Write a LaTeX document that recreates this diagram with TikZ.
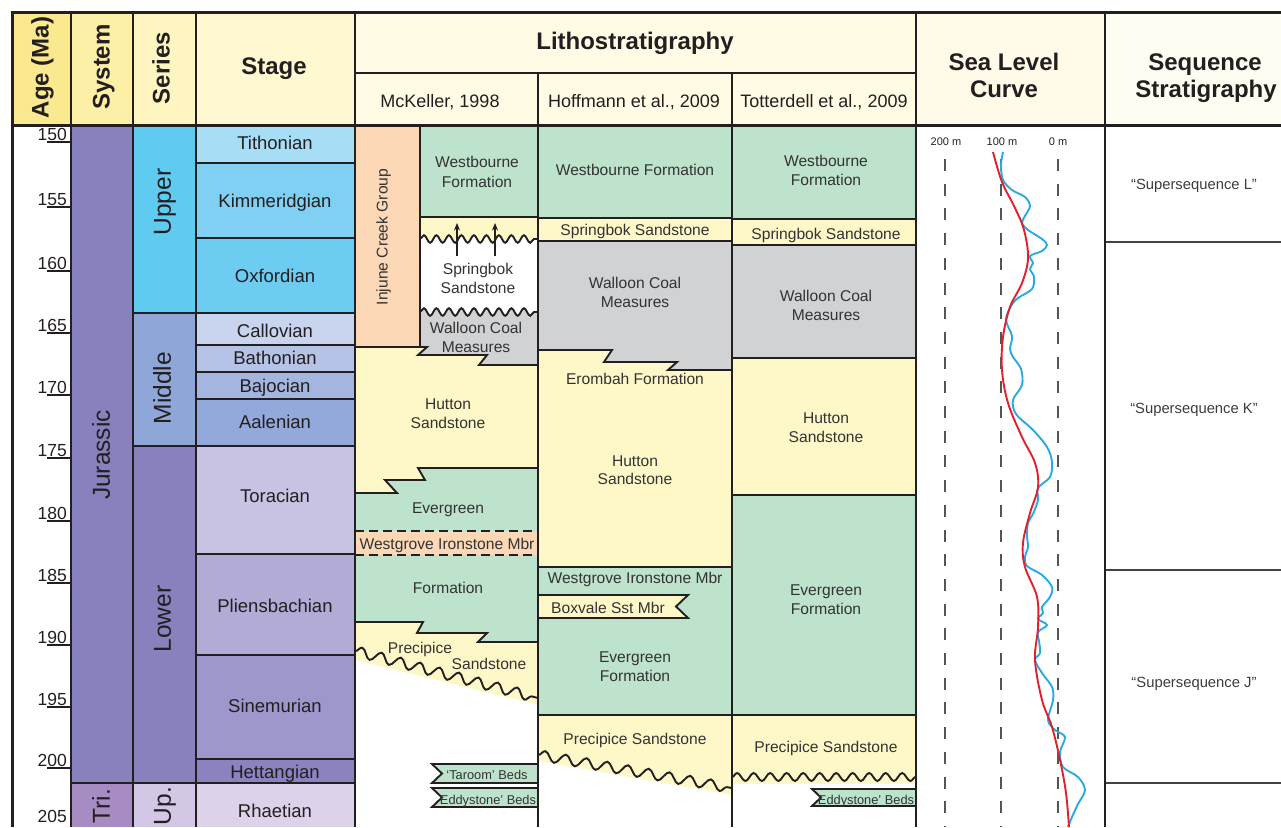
\documentclass[tikz,border=0pt]{standalone}
\usepackage{fontspec}
\setmainfont{Liberation Sans}
\usetikzlibrary{decorations.pathmorphing,arrows.meta}
\definecolor{linec}{HTML}{231F20}
\definecolor{txtc}{HTML}{333333}
\definecolor{grnc}{HTML}{BEE3CC}
\definecolor{ylwc}{HTML}{FEF8C9}
\definecolor{gryc}{HTML}{D1D2D4}
\definecolor{pchc}{HTML}{FCD8B6}
\definecolor{hA}{HTML}{FBE98F}
\definecolor{hB}{HTML}{FDF0A6}
\definecolor{hC}{HTML}{FEF5C0}
\definecolor{hD}{HTML}{FFF8D0}
\definecolor{hE}{HTML}{FFFBE4}
\definecolor{hF}{HTML}{FFFBE8}
\definecolor{hG}{HTML}{FEFDF2}
\definecolor{jurc}{HTML}{8781BD}
\definecolor{tric}{HTML}{A78CC4}
\definecolor{upperc}{HTML}{5FCBF1}
\definecolor{middlec}{HTML}{8FA6D9}
\definecolor{lowerc}{HTML}{8781BD}
\definecolor{uptric}{HTML}{D2C7E4}
\definecolor{tithc}{HTML}{A8DDF6}
\definecolor{kimc}{HTML}{80D0F3}
\definecolor{oxfc}{HTML}{6CCCF1}
\definecolor{calc}{HTML}{C9D4EE}
\definecolor{bathc}{HTML}{B4C3E6}
\definecolor{bajc}{HTML}{A4B6E0}
\definecolor{aalc}{HTML}{93A9DB}
\definecolor{toac}{HTML}{C8C3E2}
\definecolor{pliec}{HTML}{B1ABD6}
\definecolor{sinc}{HTML}{9E97CB}
\definecolor{hetc}{HTML}{8A83C0}
\definecolor{rhac}{HTML}{DCD2EA}
\definecolor{redc}{HTML}{E0202A}
\definecolor{bluec}{HTML}{29AAE1}
\definecolor{dashc}{HTML}{555555}
\definecolor{sqc}{HTML}{3C3C3C}
\begin{document}
\begin{tikzpicture}[x=1pt,y=-1pt,
  grid/.style={draw=linec,line width=2.2pt},
  outer/.style={draw=linec,line width=3pt},
  ln/.style={draw=linec,line width=1.9pt,line join=miter},
  wv/.style={draw=linec,line width=1.9pt},
  wA/.style={decoration={snake,amplitude=3.8pt,segment length=12.5pt}},
  wB/.style={decoration={snake,amplitude=5pt,segment length=20pt}},
  wC/.style={decoration={snake,amplitude=5pt,segment length=21pt}},
  wD/.style={decoration={snake,amplitude=4pt,segment length=16.5pt}},
  hdr/.style={font=\bfseries\fontsize{24}{24}\selectfont,text=linec,inner sep=0pt,text height=17.2pt,text depth=0pt},
  sub/.style={font=\fontsize{18}{18}\selectfont,text=linec,inner sep=0pt,text height=12.9pt,text depth=0pt},
  stg/.style={font=\fontsize{18.5}{18.5}\selectfont,text=linec,inner sep=0pt,text height=13.2pt,text depth=0pt},
  ser/.style={font=\fontsize{24.5}{24.5}\selectfont,text=linec,inner sep=0pt,text height=17.5pt,text depth=0pt,rotate=90},
  lit/.style={font=\fontsize{15.6}{15.6}\selectfont,text=txtc,inner sep=0pt,text height=11.2pt,text depth=0pt},
  bed/.style={font=\fontsize{12.8}{12.8}\selectfont,text=txtc,inner sep=0pt,text height=9.2pt,text depth=0pt},
  agef/.style={font=\fontsize{17.5}{17.5}\selectfont,text=linec,inner sep=0pt,anchor=base east},
  sq/.style={font=\fontsize{14.8}{14.8}\selectfont,text=sqc,inner sep=0pt,text height=10.6pt,text depth=0pt},
  sl/.style={font=\fontsize{11}{11}\selectfont,text=linec,inner sep=0pt,text height=7.9pt,text depth=0pt},
  arr/.style={draw=linec,line width=1.1pt,-{Stealth[length=7.5pt,width=6pt]}},
  tick/.style={draw=linec,line width=1.3pt},
  dsh/.style={draw=dashc,line width=1.8pt,dash pattern=on 12pt off 12.7pt},
  sqline/.style={draw=linec!85,line width=1.5pt},
]
\useasboundingbox (0,0) rectangle (1281,827);
% ---------- header fills
\fill[hA] (12,12) rectangle (71,125);
\fill[hB] (71,12) rectangle (133,125);
\fill[hC] (133,12) rectangle (196,125);
\fill[hD] (196,12) rectangle (355,125);
\fill[hE] (355,12) rectangle (916,125);
\fill[hF] (916,12) rectangle (1105,125);
\fill[hG] (1105,12) rectangle (1281,125);
% ---------- system / series / stage fills
\fill[jurc] (71,125) rectangle (133,783);
\fill[tric] (71,783) rectangle (133,827);
\fill[upperc] (133,125) rectangle (196,313);
\fill[middlec] (133,313) rectangle (196,446);
\fill[lowerc] (133,446) rectangle (196,783);
\fill[uptric] (133,783) rectangle (196,827);
\fill[tithc] (196,125) rectangle (355,163);
\fill[kimc] (196,163) rectangle (355,238);
\fill[oxfc] (196,238) rectangle (355,313);
\fill[calc] (196,313) rectangle (355,345);
\fill[bathc] (196,345) rectangle (355,372);
\fill[bajc] (196,372) rectangle (355,399);
\fill[aalc] (196,399) rectangle (355,446);
\fill[toac] (196,446) rectangle (355,554);
\fill[pliec] (196,554) rectangle (355,655);
\fill[sinc] (196,655) rectangle (355,759);
\fill[hetc] (196,759) rectangle (355,783);
\fill[rhac] (196,783) rectangle (355,827);
% ---------- McKeller column
\fill[pchc] (355,125) rectangle (420,347);
\fill[grnc] (420,125) rectangle (538,217);
\fill[ylwc,wA] (420,217) -- (420,239) decorate {-- (538,239)} -- (538,217) -- cycle;
\fill[gryc,wA] (420,312) decorate {-- (538,312)} -- (538,365) -- (479,365) -- (487,355) -- (418,355) -- (427,347) -- (420,347) -- cycle;
\fill[ylwc] (355,347) -- (427,347) -- (418,355) -- (487,355) -- (479,365) -- (538,365) -- (538,468) -- (418,468) -- (425,480) -- (385,480) -- (397,493) -- (355,493) -- cycle;
\fill[grnc] (355,493) -- (397,493) -- (385,480) -- (425,480) -- (418,468) -- (538,468) -- (538,642) -- (478,642) -- (487,633) -- (417,633) -- (423,622) -- (355,622) -- cycle;
\fill[pchc] (355,531) rectangle (538,555);
\fill[ylwc] (355,622) -- (423,622) -- (417,633) -- (487,633) -- (478,642) -- (538,642) -- (538,705) -- (355,660) -- cycle;
\draw[ln] (420,125) -- (420,347);
\draw[ln] (420,217) -- (538,217);
\draw[wv,wA] decorate {(420,239) -- (538,239)};
\draw[wv,wA] decorate {(420,312) -- (538,312)};
\draw[ln] (355,347) -- (427,347) -- (418,355) -- (487,355) -- (479,365) -- (538,365);
\draw[ln] (355,493) -- (397,493) -- (385,480) -- (425,480) -- (418,468) -- (538,468);
\draw[ln,dash pattern=on 9pt off 5pt] (355,531) -- (538,531);
\draw[ln,dash pattern=on 9pt off 5pt] (355,555) -- (538,555);
\draw[ln] (355,622) -- (423,622) -- (417,633) -- (487,633) -- (478,642) -- (538,642);
\draw[wv,wB] decorate {(355,651) -- (538,698)};
\coordinate (ar1s) at (457,256); \coordinate (ar1e) at (457,223);
\coordinate (ar2s) at (495,256); \coordinate (ar2e) at (495,223);
\draw[arr] (ar1s) -- (ar1e);
\draw[arr] (ar2s) -- (ar2e);
\filldraw[fill=grnc,ln] (432,764) -- (538,764) -- (538,783) -- (432,783) -- (442,773.5) -- cycle;
\filldraw[fill=grnc,ln] (432,788) -- (538,788) -- (538,807) -- (432,807) -- (442,797.5) -- cycle;
% ---------- Hoffmann column
\fill[grnc] (538,125) rectangle (732,218);
\fill[ylwc] (538,218) rectangle (732,241);
\fill[gryc] (538,241) -- (732,241) -- (732,370) -- (668,370) -- (677,362) -- (604,362) -- (612,350) -- (538,350) -- cycle;
\fill[ylwc] (538,350) -- (612,350) -- (604,362) -- (677,362) -- (668,370) -- (732,370) -- (732,567) -- (538,567) -- cycle;
\fill[grnc] (538,567) rectangle (732,715);
\fill[ylwc] (538,715) -- (732,715) -- (732,795) -- (538,761) -- cycle;
\draw[ln] (538,218) -- (732,218);
\draw[ln] (538,241) -- (732,241);
\draw[ln] (538,350) -- (612,350) -- (604,362) -- (677,362) -- (668,370) -- (732,370);
\draw[ln] (538,567) -- (732,567);
\filldraw[fill=ylwc,ln] (538,595) -- (688,595) -- (676,606.5) -- (688,618) -- (538,618);
\draw[ln] (538,715) -- (732,715);
\draw[wv,wC] decorate {(538,755) -- (732,788)};
% ---------- Totterdell column
\fill[grnc] (732,125) rectangle (916,219);
\fill[ylwc] (732,219) rectangle (916,245);
\fill[gryc] (732,245) rectangle (916,358);
\fill[ylwc] (732,358) rectangle (916,495);
\fill[grnc] (732,495) rectangle (916,715);
\fill[ylwc] (732,715) rectangle (916,784);
\draw[ln] (732,219) -- (916,219);
\draw[ln] (732,245) -- (916,245);
\draw[ln] (732,358) -- (916,358);
\draw[ln] (732,495) -- (916,495);
\draw[ln] (732,715) -- (916,715);
\draw[wv,wD] decorate {(732,777) -- (916,777)};
\filldraw[fill=grnc,ln] (812,789) -- (916,789) -- (916,806) -- (812,806) -- (821,797.5) -- cycle;
% ---------- sea level column
\draw[dsh] (945,159) -- (945,827);
\draw[dsh] (1001,159) -- (1001,827);
\draw[dsh] (1058,159) -- (1058,827);
\draw[bluec,line width=1.9pt] plot[smooth,tension=0.55] coordinates {(1003,152) (1001,165) (1003,180) (1012,190) (1025,197) (1030,206) (1025,216) (1022,223) (1028,230) (1042,239) (1047,245) (1042,251) (1030,256) (1033,263) (1030,269) (1034,277) (1032,289) (1018,298) (1011,306) (1006,320) (1012,336) (1010,349) (1013,357) (1021,369) (1022,385) (1013,400) (1016,414) (1033,430) (1047,447) (1052,462) (1050,477) (1038,488) (1038,500) (1033,514) (1028,523) (1027,536) (1028,547) (1025,557) (1027,566) (1042,575) (1052,587) (1050,597) (1042,607) (1043,613) (1038,619) (1047,625) (1038,632) (1039,641) (1040,653) (1035,660) (1042,673) (1052,687) (1053,700) (1048,720) (1055,730) (1065,737) (1060,752) (1063,767) (1078,777) (1085,790) (1078,804) (1072,817) (1068,827)};
\draw[redc,line width=1.9pt] plot[smooth,tension=0.6] coordinates {(993,152) (1002,182) (1015,208) (1024,230) (1028,258) (1022,283) (1010,307) (1003,337) (1002,370) (1008,403) (1022,437) (1035,463) (1038,487) (1030,513) (1023,543) (1025,567) (1037,597) (1038,627) (1035,660) (1042,700) (1052,727) (1060,760) (1066,793) (1069,827)};
% ---------- sequence column
\draw[sqline] (1105,242) -- (1281,242);
\draw[sqline] (1105,570) -- (1281,570);
\draw[sqline] (1105,783) -- (1281,783);
% ---------- age ticks
\foreach \t in {142,207,271,333,395,458,521,583,645,707,768} \draw[tick] (47,\t) -- (71,\t);
% ---------- grid lines
\foreach \y in {163,238,313,345,372,399,446,554,655,759} \draw[ln] (196,\y) -- (355,\y);
\draw[ln] (133,313) -- (196,313);
\draw[ln] (133,446) -- (196,446);
\draw[grid] (71,783) -- (355,783);
\foreach \x in {71,133,196,355,916,1105} \draw[grid] (\x,12) -- (\x,827);
\draw[grid] (538,73) -- (538,827);
\draw[grid] (732,73) -- (732,827);
\draw[grid] (355,73) -- (916,73);
\draw[outer] (10.5,12) -- (1281,12);
\draw[outer] (12,125) -- (1281,125);
\draw[outer] (12,10.5) -- (12,827);
% ---------- header texts
\node[hdr,rotate=90] (hage) at (40,67.5) {Age (Ma)};
\node[hdr,rotate=90] (hsys) at (101,67) {System};
\node[hdr,rotate=90] (hser) at (161,68) {Series};
\node[hdr] (hstg) at (274,66) {Stage};
\node[hdr] (hlit) at (635,41) {Lithostratigraphy};
\node[sub] (hmck) at (440,101) {McKeller, 1998};
\node[sub] (hhof) at (634,101) {Hoffmann et al., 2009};
\node[sub] (htot) at (824,101) {Totterdell et al., 2009};
\node[hdr] (hsea1) at (1004,62) {Sea Level};
\node[hdr] (hsea2) at (1004,89) {Curve};
\node[hdr] (hseq1) at (1205,62) {Sequence};
\node[hdr] (hseq2) at (1206,89) {Stratigraphy};
% ---------- age labels
\node[agef] (a150) at (67,140.5) {150};
\node[agef] (a155) at (67,205.5) {155};
\node[agef] (a160) at (67,269.5) {160};
\node[agef] (a165) at (67,331.5) {165};
\node[agef] (a170) at (67,393.5) {170};
\node[agef] (a175) at (67,456.5) {175};
\node[agef] (a180) at (67,519.5) {180};
\node[agef] (a185) at (67,581.5) {185};
\node[agef] (a190) at (67,643.5) {190};
\node[agef] (a195) at (67,705.5) {195};
\node[agef] (a200) at (67,766.5) {200};
\node[agef] (a205) at (67,822) {205};
% ---------- system / series
\node[ser] (sjur) at (101,455) {Jurassic};
\node[ser] (stri) at (101,806) {Tri.};
\node[ser] (supp) at (162,202) {Upper};
\node[ser] (smid) at (162,388) {Middle};
\node[ser] (slow) at (162,619) {Lower};
\node[ser] (supt) at (162,806) {Up.};
% ---------- stages
\node[stg] (tith) at (275,143) {Tithonian};
\node[stg] (kimm) at (275,201) {Kimmeridgian};
\node[stg] (oxf) at (275,276) {Oxfordian};
\node[stg] (call) at (275,331) {Callovian};
\node[stg] (bath) at (275,358) {Bathonian};
\node[stg] (baj) at (275,386) {Bajocian};
\node[stg] (aal) at (275,422) {Aalenian};
\node[stg] (toa) at (275,496) {Toracian};
\node[stg] (plie) at (275,606) {Pliensbachian};
\node[stg] (sin) at (275,706) {Sinemurian};
\node[stg] (het) at (275,772) {Hettangian};
\node[stg] (rha) at (275,811) {Rhaetian};
% ---------- McKeller texts
\node[lit,rotate=90] (mInj) at (382,237) {Injune Creek Group};
\node[lit] (mWb1) at (477,162) {Westbourne};
\node[lit] (mWb2) at (477,182) {Formation};
\node[lit] (mSp1) at (478,269) {Springbok};
\node[lit] (mSp2) at (478,287.5) {Sandstone};
\node[lit] (mWa1) at (476,327.5) {Walloon Coal};
\node[lit] (mWa2) at (476,347) {Measures};
\node[lit] (mHu1) at (448,404) {Hutton};
\node[lit] (mHu2) at (448,422.5) {Sandstone};
\node[lit] (mEv) at (448,508) {Evergreen};
\node[lit] (mWg) at (447,544) {Westgrove Ironstone Mbr};
\node[lit] (mFm) at (448,588) {Formation};
\node[lit] (mPr1) at (420,648) {Precipice};
\node[lit] (mPr2) at (489,664) {Sandstone};
\node[bed] (mTar) at (487,775) {‘Taroom’ Beds};
\node[bed] (mEdd) at (488,800) {Eddystone’ Beds};
% ---------- Hoffmann texts
\node[lit] (hWb) at (635,170) {Westbourne Formation};
\node[lit] (hSp) at (635,230) {Springbok Sandstone};
\node[lit] (hWa1) at (635,283) {Walloon Coal};
\node[lit] (hWa2) at (635,302) {Measures};
\node[lit] (hEr) at (635,379) {Erombah Formation};
\node[lit] (hHu1) at (635,461) {Hutton};
\node[lit] (hHu2) at (635,479) {Sandstone};
\node[lit] (hWg) at (635,578) {Westgrove Ironstone Mbr};
\node[lit] (hBx) at (608,607.5) {Boxvale Sst Mbr};
\node[lit] (hEv1) at (635,657) {Evergreen};
\node[lit] (hEv2) at (635,676) {Formation};
\node[lit] (hPr) at (635,739) {Precipice Sandstone};
% ---------- Totterdell texts
\node[lit] (tWb1) at (826,161) {Westbourne};
\node[lit] (tWb2) at (826,180) {Formation};
\node[lit] (tSp) at (826,234) {Springbok Sandstone};
\node[lit] (tWa1) at (826,296) {Walloon Coal};
\node[lit] (tWa2) at (826,315) {Measures};
\node[lit] (tHu1) at (826,418) {Hutton};
\node[lit] (tHu2) at (826,437) {Sandstone};
\node[lit] (tEv1) at (826,590) {Evergreen};
\node[lit] (tEv2) at (826,609) {Formation};
\node[lit] (tPr) at (826,747) {Precipice Sandstone};
\node[bed] (tEdd) at (866,800) {Eddystone’ Beds};
% ---------- sea level labels
\node[sl] (l200) at (946,141.5) {200 m};
\node[sl] (l100) at (1002,141.5) {100 m};
\node[sl] (l0) at (1058,141.5) {0 m};
% ---------- sequence labels
\node[sq] (sqL) at (1194,184) {“Supersequence L”};
\node[sq] (sqK) at (1194,408) {“Supersequence K”};
\node[sq] (sqJ) at (1194,682) {“Supersequence J”};
\end{tikzpicture}
\end{document}
